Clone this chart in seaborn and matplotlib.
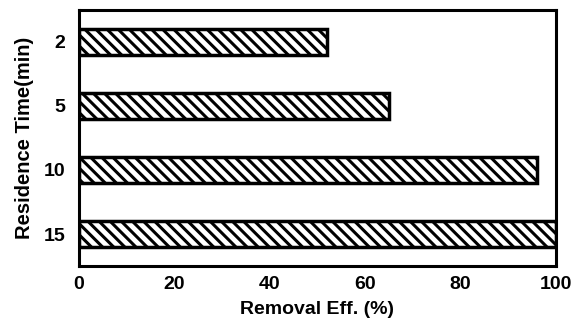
import matplotlib
matplotlib.use("Agg")
import matplotlib.pyplot as plt
import seaborn as sns
import pandas as pd
from matplotlib.ticker import FixedLocator

residence_time = ["2", "5", "10", "15"]
removal_eff = [52, 65, 96, 100]

df = pd.DataFrame({"time": residence_time, "eff": removal_eff})

sns.set_style("white")
plt.rcParams["font.family"] = ["Liberation Sans", "DejaVu Sans"]
plt.rcParams["font.weight"] = "bold"
plt.rcParams["hatch.linewidth"] = 2.2
plt.rcParams["text.color"] = "black"
plt.rcParams["axes.labelcolor"] = "black"
plt.rcParams["xtick.color"] = "black"
plt.rcParams["ytick.color"] = "black"

fig = plt.figure(figsize=(5.74, 3.27), dpi=100)
ax = fig.add_axes([0.1376, 0.1865, 0.831, 0.783])

sns.barplot(data=df, x="eff", y="time", order=residence_time, orient="h",
            width=0.42, color="white", edgecolor="black", linewidth=2.5,
            hatch="\\\\\\", ax=ax)

ax.set_xlim(0, 100)
ax.set_ylim(3.5, -0.5)
ax.set_xticks([0, 20, 40, 60, 80, 100])
ax.set_xlabel("Removal Eff. (%)", fontsize=14, fontweight="bold", labelpad=6)
ax.set_ylabel("Residence Time(min)", fontsize=14.5, fontweight="bold", labelpad=7)

ax.tick_params(axis="x", direction="in", length=4, width=2, pad=7, labelsize=14)
ax.tick_params(axis="y", which="major", length=0, pad=10, labelsize=14)
ax.yaxis.set_minor_locator(FixedLocator([0.5, 1.5, 2.5]))
ax.tick_params(axis="y", which="minor", direction="in", length=4, width=2)
for lab in ax.get_xticklabels() + ax.get_yticklabels():
    lab.set_fontweight("bold")

for sp in ax.spines.values():
    sp.set_visible(True)
    sp.set_linewidth(2.2)
    sp.set_color("black")

fig.savefig("out.png", dpi=100)
